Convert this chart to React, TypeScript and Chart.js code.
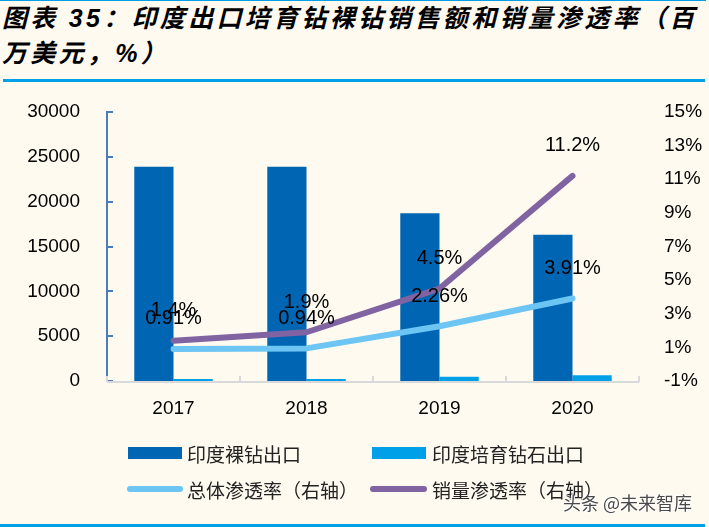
import React, { useEffect, useRef } from 'react';
import { Chart, registerables } from 'chart.js';

Chart.register(...registerables);

const CATEGORIES = ['2017', '2018', '2019', '2020'];
const NATURAL_EXPORT = [23900, 23900, 18700, 16300];
const LAB_EXPORT = [230, 230, 480, 650];
const TOTAL_PEN = [0.91, 0.94, 2.26, 3.91];
const SALES_PEN = [1.4, 1.9, 4.5, 11.2];
const TOTAL_PEN_LABELS = ['0.91%', '0.94%', '2.26%', '3.91%'];
const SALES_PEN_LABELS = ['1.4%', '1.9%', '4.5%', '11.2%'];
const LEFT_TICKS = [0, 5000, 10000, 15000, 20000, 25000, 30000];
const RIGHT_TICKS = [-1, 1, 3, 5, 7, 9, 11, 13, 15];
const SERIES = ['印度裸钻出口', '印度培育钻石出口', '总体渗透率（右轴）', '销量渗透率（右轴）'];
const TITLE_1 = '图表 35：印度出口培育钻裸钻销售额和销量渗透率（百';
const TITLE_2 = '万美元，%）';
const WATERMARK = '头条 @未来智库';

const C_DARK = '#0066B3';
const C_LIGHT = '#00A0E9';
const C_LINE1 = '#6CC5F3';
const C_LINE2 = '#8064A2';
const BG = '#FFFAF0';

const NUM_FONT = '"Liberation Sans", Arial, sans-serif';
const CJK_FONT = '"Noto Sans CJK SC", "Liberation Sans", sans-serif';

const decorPlugin = {
  id: 'decor',
  afterDatasetsDraw(chart: any) {
    const { ctx, chartArea: a, scales } = chart;
    ctx.save();
    // left axis
    ctx.strokeStyle = '#4A7EBB';
    ctx.lineWidth = 2;
    ctx.beginPath();
    ctx.moveTo(a.left, a.top - 1);
    ctx.lineTo(a.left, a.bottom);
    scales.y.ticks.forEach((t: any) => {
      const py = Math.round(scales.y.getPixelForValue(t.value));
      ctx.moveTo(a.left, py);
      ctx.lineTo(a.left + 6, py);
    });
    ctx.stroke();
    // bottom axis
    ctx.strokeStyle = '#D9D9D9';
    ctx.beginPath();
    ctx.moveTo(a.left, a.bottom + 1);
    ctx.lineTo(a.right, a.bottom + 1);
    for (let i = 0; i <= CATEGORIES.length; i++) {
      const px = Math.round(scales.x.getPixelForValue(i - 0.5));
      ctx.moveTo(px, a.bottom + 1);
      ctx.lineTo(px, a.bottom - 5);
    }
    ctx.stroke();
    // data labels
    ctx.fillStyle = '#000';
    ctx.font = '20px ' + NUM_FONT;
    ctx.textAlign = 'center';
    ctx.textBaseline = 'middle';
    const drawLabels = (idx: number, labels: string[]) => {
      const meta = chart.getDatasetMeta(idx);
      meta.data.forEach((pt: any, i: number) => {
        ctx.fillText(labels[i], pt.x, pt.y - 30);
      });
    };
    drawLabels(2, TOTAL_PEN_LABELS);
    drawLabels(3, SALES_PEN_LABELS);
    ctx.restore();
  },
};

export default function App() {
  const ref = useRef<HTMLCanvasElement | null>(null);

  useEffect(() => {
    if (!ref.current) return;
    const tickFont = { family: NUM_FONT, size: 19 };
    const chart = new Chart(ref.current, {
      type: 'bar',
      data: {
        labels: CATEGORIES,
        datasets: [
          {
            type: 'bar',
            label: SERIES[0],
            data: NATURAL_EXPORT,
            backgroundColor: C_DARK,
            yAxisID: 'y',
            order: 2,
            barPercentage: 1,
            categoryPercentage: 0.59,
          },
          {
            type: 'bar',
            label: SERIES[1],
            data: LAB_EXPORT,
            backgroundColor: C_LIGHT,
            yAxisID: 'y',
            order: 2,
            barPercentage: 1,
            categoryPercentage: 0.59,
          },
          {
            type: 'line',
            label: SERIES[2],
            data: TOTAL_PEN,
            borderColor: C_LINE1,
            backgroundColor: C_LINE1,
            borderWidth: 6,
            pointRadius: 0,
            borderCapStyle: 'round',
            borderJoinStyle: 'round',
            tension: 0,
            yAxisID: 'y1',
            order: 1,
          },
          {
            type: 'line',
            label: SERIES[3],
            data: SALES_PEN,
            borderColor: C_LINE2,
            backgroundColor: C_LINE2,
            borderWidth: 6,
            pointRadius: 0,
            borderCapStyle: 'round',
            borderJoinStyle: 'round',
            tension: 0,
            yAxisID: 'y1',
            order: 0,
          },
        ],
      } as any,
      options: {
        responsive: false,
        animation: false,
        layout: { padding: { top: 112, bottom: 106, left: 0, right: 0 } },
        plugins: { legend: { display: false }, tooltip: { enabled: false } },
        scales: {
          x: {
            type: 'category',
            offset: true,
            grid: { display: false },
            border: { display: false },
            ticks: { font: tickFont, color: '#000', padding: 8, maxRotation: 0 },
            afterFit: (s: any) => { s.height = 40; },
          },
          y: {
            position: 'left',
            min: 0,
            max: 30000,
            grid: { display: false },
            border: { display: false },
            ticks: { font: tickFont, color: '#000', padding: 19, callback: (v: any) => String(v) },
            afterBuildTicks: (s: any) => { s.ticks = LEFT_TICKS.map((v) => ({ value: v })); },
            afterFit: (s: any) => { s.width = 107; },
          },
          y1: {
            position: 'right',
            min: -1,
            max: 15,
            grid: { display: false },
            border: { display: false },
            ticks: { font: tickFont, color: '#000', padding: 17, callback: (v: any) => v + '%' },
            afterBuildTicks: (s: any) => { s.ticks = RIGHT_TICKS.map((v) => ({ value: v })); },
            afterFit: (s: any) => { s.width = 70; },
          },
        },
      } as any,
      plugins: [decorPlugin],
    });
    return () => chart.destroy();
  }, []);

  const titleStyle: React.CSSProperties = {
    position: 'absolute',
    left: 2,
    fontFamily: '"Liberation Sans", "Noto Sans CJK SC", sans-serif',
    fontWeight: 700,
    fontStyle: 'italic',
    fontSize: 25,
    letterSpacing: 3.3,
    lineHeight: '25px',
    color: '#000',
    whiteSpace: 'nowrap',
  };

  const legendItem = (left: number, cy: number, swatch: React.ReactNode, text: string, textLeft: number) => (
    <div style={{ position: 'absolute', left, top: cy - 15, height: 30, display: 'flex', alignItems: 'center' }}>
      {swatch}
      <span
        style={{
          marginLeft: textLeft,
          fontFamily: CJK_FONT,
          fontSize: 19,
          lineHeight: '19px',
          color: '#222',
          whiteSpace: 'nowrap',
        }}
      >
        {text}
      </span>
    </div>
  );

  return (
    <div style={{ position: 'fixed', left: 0, top: 0, width: 709, height: 527, background: BG, overflow: 'hidden' }}>
      <div style={{ position: 'absolute', left: 0, top: 0, width: 706, height: 1, background: C_LIGHT }} />
      <div style={{ ...titleStyle, top: 6 }}>{TITLE_1}</div>
      <div style={{ ...titleStyle, top: 41 }}>{TITLE_2}</div>
      <div style={{ position: 'absolute', left: 3, top: 79, width: 702, height: 3, background: C_LIGHT }} />
      <canvas ref={ref} width={709} height={527} style={{ position: 'absolute', left: 0, top: 0, width: 709, height: 527 }} />
      {legendItem(128, 453, <div style={{ width: 54, height: 12, background: C_DARK }} />, SERIES[0], 5)}
      {legendItem(372, 453, <div style={{ width: 54, height: 12, background: C_LIGHT }} />, SERIES[1], 6)}
      {legendItem(127, 489, <div style={{ width: 56, height: 6, borderRadius: 3, background: C_LINE1 }} />, SERIES[2], 4)}
      {legendItem(370, 489, <div style={{ width: 57, height: 6, borderRadius: 3, background: C_LINE2 }} />, SERIES[3], 5)}
      <div
        style={{
          position: 'absolute',
          left: 563,
          top: 491,
          fontFamily: CJK_FONT,
          fontSize: 18,
          lineHeight: '22px',
          color: '#4a4a4a',
          whiteSpace: 'nowrap',
          textShadow: '1px 1px 0 #fff, -1px -1px 0 #fff',
        }}
      >
        {WATERMARK}
      </div>
      <div style={{ position: 'absolute', left: 0, top: 524, width: 705, height: 3, background: C_LIGHT }} />
    </div>
  );
}
